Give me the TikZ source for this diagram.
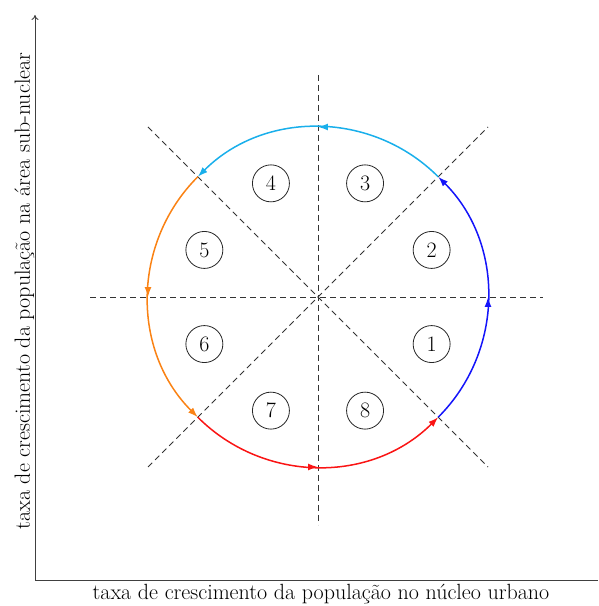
\documentclass[tikz,border=0pt]{standalone}
\usetikzlibrary{arrows.meta,decorations.markings,calc}
\definecolor{cblue}{RGB}{20,20,250}
\definecolor{ccyan}{RGB}{25,175,235}
\definecolor{corange}{RGB}{250,130,20}
\definecolor{cred}{RGB}{250,20,20}
\begin{document}
\begin{tikzpicture}[x=1pt,y=1pt,
  font=\fontsize{22}{26}\selectfont,
  axisline/.style={draw=black!75,line width=0.9pt},
  guide/.style={draw=black!80,line width=0.8pt,dash pattern=on 6pt off 4pt},
  flow/.style={line width=1.5pt,-{Latex[length=10pt,width=7pt]},
    postaction={decorate},
    decoration={markings,mark=at position 0.5 with {\arrow{Latex[length=10pt,width=7pt]}}}},
  num/.style={circle,draw=black!85,line width=0.8pt,minimum size=37pt,inner sep=0pt}]
\useasboundingbox (0,0) rectangle (598,606);
% axes
\coordinate (A0) at (35,26);
\coordinate (Ay) at (35,591);
\coordinate (Ax) at (598,26);
\draw[axisline,-{To[length=5pt,width=7pt]}] (A0) -- (Ay);
\draw[axisline] (A0) -- (Ax);
\node[anchor=base,inner sep=0pt] (xl) at (321,6) {taxa de crescimento da população no núcleo urbano};
\node[rotate=90,anchor=base,inner sep=0pt] (yl) at (30,315) {taxa de crescimento da população na área sub-nuclear};
% center and guides
\coordinate (O) at (318,309);
\coordinate (H1) at (90,309);
\coordinate (H2) at (543,309);
\coordinate (V1) at (318,531);
\coordinate (V2) at (318,81);
\coordinate (D1) at (148,479);
\coordinate (D2) at (488,139);
\coordinate (D3) at (148,139);
\coordinate (D4) at (488,479);
\draw[guide] (H1) -- (H2);
\draw[guide] (V1) -- (V2);
\draw[guide] (D1) -- (D2);
\draw[guide] (D3) -- (D4);
% arcs
\draw[flow,cblue] (O) ++(-45:170) arc[start angle=-45,end angle=45,radius=170];
\draw[flow,ccyan] (O) ++(45:170) arc[start angle=45,end angle=135,radius=170];
\draw[flow,corange] (O) ++(135:170) arc[start angle=135,end angle=225,radius=170];
\draw[flow,cred] (O) ++(225:170) arc[start angle=225,end angle=315,radius=170];
% numbers
\foreach \k in {1,...,8}{
  \node[num] (n\k) at ($(O)+({-22.5+45*(\k-1)}:123)$) {\k};
}
\end{tikzpicture}
\end{document}
